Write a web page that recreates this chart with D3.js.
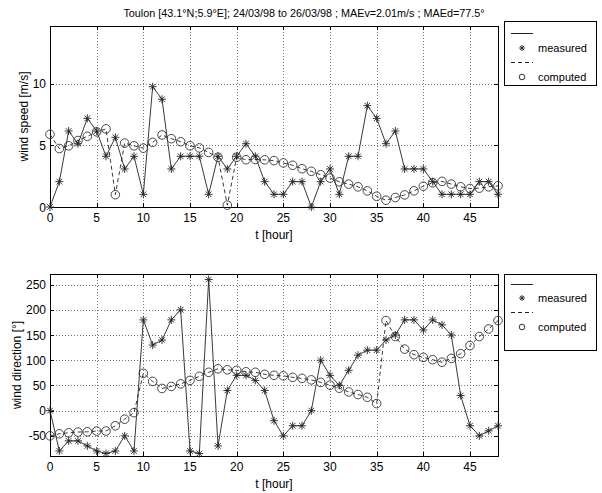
<!DOCTYPE html>
<html>
<head>
<meta charset="utf-8">
<script src="https://cdn.jsdelivr.net/npm/d3@7"></script>
<style>
html,body{margin:0;padding:0;background:#fff;}
svg text{font-family:"Liberation Sans",Arial,Helvetica,sans-serif;fill:#000;}
</style>
</head>
<body>
<svg id="chart" width="602" height="493"></svg>
<script>
// ---------- data ----------
const hours = [0,1,2,3,4,5,6,7,8,9,10,11,12,13,14,15,16,17,18,19,20,21,22,23,24,25,26,27,28,29,30,31,32,33,34,35,36,37,38,39,40,41,42,43,44,45,46,47,48];
const speedMeasured = [0,2.06,6.17,5.14,7.2,6.17,4.12,5.66,3.09,4.12,1.03,9.77,8.75,3.09,4.12,4.12,4.12,1.03,4.12,3.09,4.12,5.14,4.12,2.06,1.03,1.03,2.06,2.06,0,2.06,3.09,1.03,4.12,4.12,8.23,7.2,5.14,6.17,3.09,3.09,3.09,2.06,1.03,1.03,1.03,1.03,2.06,2.06,1.03];
const speedComputed = [5.9,4.75,4.97,5.4,5.74,6.1,6.34,1.0,5.19,4.97,4.78,5.25,5.85,5.55,5.3,4.97,4.8,4.43,4.04,0.15,4.04,3.84,3.86,3.83,3.77,3.58,3.39,3.11,2.9,2.62,2.35,2.05,1.86,1.64,1.31,0.87,0.55,0.77,0.98,1.31,1.69,1.97,2.08,1.86,1.64,1.5,1.53,1.64,1.72];
const dirMeasured = [0,-80,-60,-60,-70,-80,-85,-80,-50,-80,180,130,140,180,200,-80,-85,260,-70,40,70,70,60,40,-20,-50,-30,-30,0,100,70,50,80,110,120,120,140,150,180,180,160,180,170,150,30,-30,-50,-40,-30];
const dirComputed = [-50,-46,-44,-42.5,-42,-40.5,-40.5,-30,-17,-4,74,58,44,48,53,60,68,76,83,81,80,77,76,72,70,69,66,64,61,56,50.5,44.5,37,32,26.5,14,178.6,147,122,111,105.6,101,96,103.6,113,129,147,162,178.6];
const xTicks = [0,5,10,15,20,25,30,35,40,45];
const speedTicks = [0,5,10];
const dirTicks = [-50,0,50,100,150,200,250];
const titleText = "Toulon [43.1°N;5.9°E]; 24/03/98 to 26/03/98 ; MAEv=2.01m/s ; MAEd=77.5°";
const xLabel = "t [hour]";
const speedLabel = "wind speed [m/s]";
const dirLabel = "wind direction [°]";
const legendLabels = ["measured","computed"];

// ---------- drawing ----------
const svg = d3.select("#chart");
const L = 50, R = 498;
const x = d3.scaleLinear().domain([0,48]).range([L,R]);

svg.append("text").attr("x",304).attr("y",17).attr("text-anchor","middle")
  .style("font-size","10.8px").text(titleText);

function star(g, cx, cy, r){
  const d = r*0.707;
  g.append("path")
   .attr("d",`M${cx-r},${cy}H${cx+r}M${cx},${cy-r}V${cy+r}M${cx-d},${cy-d}L${cx+d},${cy+d}M${cx-d},${cy+d}L${cx+d},${cy-d}`)
   .attr("stroke","#222").attr("stroke-width",0.9).attr("fill","none");
}

function panel(opt){
  const y = d3.scaleLinear().domain(opt.domain).range([opt.bottom, opt.top]);
  const g = svg.append("g");
  // grid
  g.selectAll(".gx").data(xTicks.filter(t=>t>0)).enter().append("line")
    .attr("x1",d=>Math.round(x(d))+0.5).attr("x2",d=>Math.round(x(d))+0.5)
    .attr("y1",opt.top).attr("y2",opt.bottom)
    .attr("stroke","#777").attr("stroke-width",1).attr("stroke-dasharray","1,2");
  g.selectAll(".gy").data(opt.ticks).enter().append("line")
    .attr("y1",d=>Math.round(y(d))+0.5).attr("y2",d=>Math.round(y(d))+0.5)
    .attr("x1",L).attr("x2",R)
    .attr("stroke","#777").attr("stroke-width",1).attr("stroke-dasharray","1,2");
  // inward ticks
  xTicks.forEach(t=>{
    const px = Math.round(x(t))+0.5;
    g.append("line").attr("x1",px).attr("x2",px).attr("y1",opt.bottom).attr("y2",opt.bottom-4).attr("stroke","#000");
    g.append("line").attr("x1",px).attr("x2",px).attr("y1",opt.top).attr("y2",opt.top+4).attr("stroke","#000");
  });
  opt.ticks.forEach(t=>{
    const py = Math.round(y(t))+0.5;
    g.append("line").attr("x1",L).attr("x2",L+4).attr("y1",py).attr("y2",py).attr("stroke","#000");
    g.append("line").attr("x1",R-4).attr("x2",R).attr("y1",py).attr("y2",py).attr("stroke","#000");
  });
  // frame
  g.append("rect").attr("x",L+0.5).attr("y",Math.round(opt.top)+0.5)
    .attr("width",R-L).attr("height",Math.round(opt.bottom)-Math.round(opt.top))
    .attr("fill","none").attr("stroke","#000").attr("stroke-width",1);
  // tick labels
  g.selectAll(".xl").data(xTicks).enter().append("text")
    .attr("x",d=>x(d)).attr("y",opt.bottom+15).attr("text-anchor","middle")
    .style("font-size","12px").text(d=>d);
  g.selectAll(".yl").data(opt.ticks).enter().append("text")
    .attr("x",46).attr("y",d=>y(d)+4.5).attr("text-anchor","end")
    .style("font-size","12px").text(d=>d);
  g.append("text").attr("x",(L+R)/2).attr("y",opt.bottom+32).attr("text-anchor","middle")
    .style("font-size","12px").text(xLabel);
  g.append("text").attr("transform",`translate(${opt.ylx},${(opt.top+opt.bottom)/2}) rotate(-90)`)
    .attr("text-anchor","middle").style("font-size","12px").text(opt.ylabel);
  // lines
  const line = d3.line().x((d,i)=>x(hours[i])).y(d=>y(d));
  g.append("path").attr("d",line(opt.computed)).attr("fill","none")
    .attr("stroke","#222").attr("stroke-width",0.9).attr("stroke-dasharray","4,3");
  g.append("path").attr("d",line(opt.measured)).attr("fill","none")
    .attr("stroke","#222").attr("stroke-width",0.9);
  opt.measured.forEach((v,i)=>star(g, x(hours[i]), y(v), 4));
  g.selectAll(".c").data(opt.computed).enter().append("circle")
    .attr("cx",(d,i)=>x(hours[i])).attr("cy",d=>y(d)).attr("r",4.3)
    .attr("fill","none").attr("stroke","#333").attr("stroke-width",0.9);
  // legend
  const lg = opt.legend;
  g.append("rect").attr("x",504.5).attr("y",lg.top+0.5).attr("width",92).attr("height",lg.h)
    .attr("fill","#fff").attr("stroke","#000");
  g.append("line").attr("x1",511).attr("x2",533).attr("y1",lg.rows[0]+0.5).attr("y2",lg.rows[0]+0.5).attr("stroke","#222");
  star(g,522,lg.rows[1],3);
  g.append("text").attr("x",538).attr("y",lg.rows[1]+4).style("font-size","11px").text(legendLabels[0]);
  g.append("line").attr("x1",511).attr("x2",533).attr("y1",lg.rows[2]+0.5).attr("y2",lg.rows[2]+0.5)
    .attr("stroke","#222").attr("stroke-dasharray","4,3");
  g.append("circle").attr("cx",522).attr("cy",lg.rows[3]).attr("r",2.8)
    .attr("fill","none").attr("stroke","#333");
  g.append("text").attr("x",538).attr("y",lg.rows[3]+4).style("font-size","11px").text(legendLabels[1]);
}

panel({domain:[0,14.7], ticks:speedTicks, top:26, bottom:207, measured:speedMeasured, computed:speedComputed,
  ylabel:speedLabel, ylx:28, legend:{top:21, h:64, rows:[33,48,62,77]}});
panel({domain:[-90,271], ticks:dirTicks, top:274, bottom:456, measured:dirMeasured, computed:dirComputed,
  ylabel:dirLabel, ylx:21, legend:{top:274, h:76, rows:[284,298,312,327]}});
</script>
</body>
</html>
